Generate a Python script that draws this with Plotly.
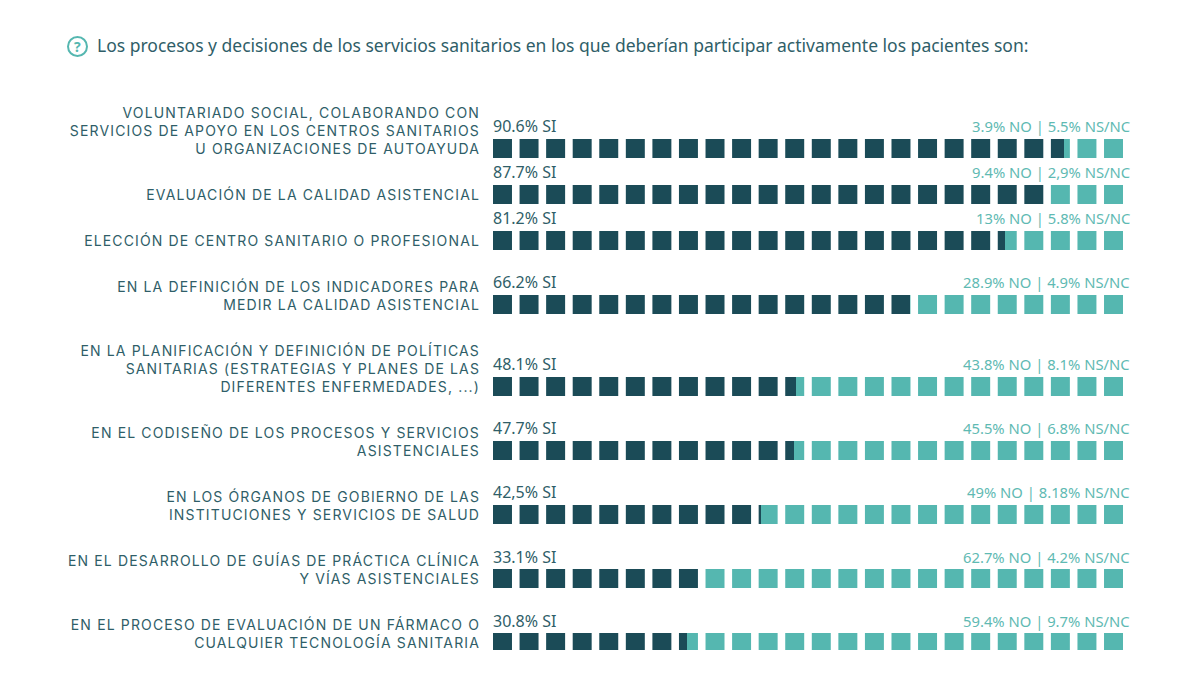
import plotly.graph_objects as go

title = "Los procesos y decisiones de los servicios sanitarios en los que deberían participar activamente los pacientes son:"
labels = [
    "VOLUNTARIADO SOCIAL, COLABORANDO CON<br>SERVICIOS DE APOYO EN LOS CENTROS SANITARIOS<br>U ORGANIZACIONES DE AUTOAYUDA",
    "EVALUACIÓN DE LA CALIDAD ASISTENCIAL",
    "ELECCIÓN DE CENTRO SANITARIO O PROFESIONAL",
    "EN LA DEFINICIÓN DE LOS INDICADORES PARA<br>MEDIR LA CALIDAD ASISTENCIAL",
    "EN LA PLANIFICACIÓN Y DEFINICIÓN DE POLÍTICAS<br>SANITARIAS (ESTRATEGIAS Y PLANES DE LAS<br>DIFERENTES ENFERMEDADES, ...)",
    "EN EL CODISEÑO DE LOS PROCESOS Y SERVICIOS<br>ASISTENCIALES",
    "EN LOS ÓRGANOS DE GOBIERNO DE LAS<br>INSTITUCIONES Y SERVICIOS DE SALUD",
    "EN EL DESARROLLO DE GUÍAS DE PRÁCTICA CLÍNICA<br>Y VÍAS ASISTENCIALES",
    "EN EL PROCESO DE EVALUACIÓN DE UN FÁRMACO O<br>CUALQUIER TECNOLOGÍA SANITARIA",
]
si = [90.6, 87.7, 81.2, 66.2, 48.1, 47.7, 42.5, 33.1, 30.8]
no = [3.9, 9.4, 13, 28.9, 43.8, 45.5, 49, 62.7, 59.4]
# the drawn bars all reach the end of the strip, so the last two are read from the bars, not their labels
nsnc = [5.5, 2.9, 5.8, 4.9, 8.1, 6.8, 8.5, 4.2, 9.8]
si_text = ["90.6% SI", "87.7% SI", "81.2% SI", "66.2% SI", "48.1% SI", "47.7% SI", "42,5% SI", "33.1% SI", "30.8% SI"]
rest_text = ["3.9% NO | 5.5% NS/NC", "9.4% NO | 2,9% NS/NC", "13% NO | 5.8% NS/NC", "28.9% NO | 4.9% NS/NC",
             "43.8% NO | 8.1% NS/NC", "45.5% NO | 6.8% NS/NC", "49% NO | 8.18% NS/NC", "62.7% NO | 4.2% NS/NC",
             "59.4% NO | 9.7% NS/NC"]

DARK, TEAL = "#1b4b57", "#55b7b0"
TEXT, TEXT_LIGHT = "#2f5e68", "#5fbab3"
FONT = "Noto Sans"
CAPS_FONT = "Inter"
L, R, T, B = 493, 77, 100, 34          # plot margins, px
W_PX = 1200 - L - R
H_PX = 684 - T - B
N_SQUARES, SQUARE_PX, GAP_PX = 24, 19.0, 7.6
LINE_PX, ROW_PX = 18.2, 46

# rows are spaced according to how many lines their label takes (1 y unit = 1 px)
n_lines = [s.count("<br>") + 1 for s in labels]
ypos = [0.0]
for k in range(1, len(labels)):
    ypos.append(ypos[-1] + ROW_PX + LINE_PX * (n_lines[k] - 1))
ytick = [y + 1 - (n - 1) * LINE_PX / 2 for y, n in zip(ypos, n_lines)]

fig = go.Figure()
for name, vals, col in [("SI", si, DARK), ("NO", no, TEAL), ("NS/NC", nsnc, TEAL)]:
    fig.add_bar(y=ypos, x=vals, name=name, orientation="h", width=SQUARE_PX,
                marker=dict(color=col, line=dict(width=0)))

# white gaps cut the stacked bars into squares
span = N_SQUARES * SQUARE_PX + (N_SQUARES - 1) * GAP_PX
pitch = 100 * (SQUARE_PX + GAP_PX) / span
gap = 100 * GAP_PX / span
shapes = [dict(type="rect", xref="x", yref="paper", x0=pitch * i - gap, x1=pitch * i, y0=0, y1=1,
               fillcolor="white", line=dict(width=0), layer="above") for i in range(1, N_SQUARES)]
# question-mark icon
shapes.append(dict(type="circle", xref="paper", yref="paper",
                   x0=(68 - L) / W_PX, x1=(87 - L) / W_PX,
                   y0=(684 - B - 56) / H_PX, y1=(684 - B - 37) / H_PX,
                   line=dict(color=TEAL, width=2), fillcolor="white"))

ann = []
for y, a, b in zip(ypos, si_text, rest_text):
    ann.append(dict(x=0, y=y - 9, xref="x", yref="y", text=a, showarrow=False, xanchor="left", yanchor="bottom",
                    xshift=-2, font=dict(family=FONT, size=16, color=TEXT)))
    ann.append(dict(x=100, y=y - 10, xref="x", yref="y", text=b, showarrow=False, xanchor="right", yanchor="bottom",
                    xshift=9, font=dict(family=FONT, size=14.8, color=TEXT_LIGHT)))
ann.append(dict(x=(77.5 - L) / W_PX, y=(684 - B - 46.5) / H_PX, xref="paper", yref="paper", text="<b>?</b>",
                xanchor="center", yanchor="middle",
                showarrow=False, font=dict(family=FONT, size=14, color=TEAL)))

fig.update_layout(
    width=1200, height=684, barmode="stack", bargap=0, showlegend=False,
    paper_bgcolor="white", plot_bgcolor="white",
    margin=dict(l=L, r=R, t=T, b=B, pad=0),
    title=dict(text=title, x=97 / 1200, xanchor="left", y=1 - 46 / 684, yanchor="middle",
               font=dict(family=FONT, size=17.5, color=TEXT)),
    xaxis=dict(range=[0, 100], visible=False, fixedrange=True),
    yaxis=dict(range=[ypos[-1] + 7.5, -48.5], showgrid=False, zeroline=False, showline=False, ticks="",
               tickmode="array", tickvals=ytick, ticktext=labels, ticklen=0, ticklabelstandoff=12,
               tickfont=dict(family=CAPS_FONT, size=14, color=TEXT)),
    shapes=shapes, annotations=ann,
)
style = "body{margin:0;} .ytick text, .ytick tspan {letter-spacing: 1.14px;}"
fig.write_html("out.html", config={"displayModeBar": False},
               post_script="var s=document.createElement('style');s.textContent=%r;document.head.appendChild(s);" % style)
